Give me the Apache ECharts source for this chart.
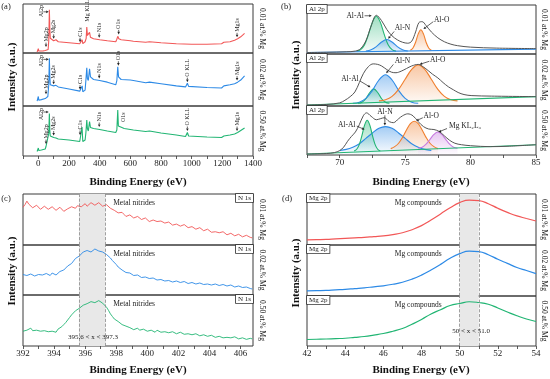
<!DOCTYPE html>
<html><head><meta charset="utf-8">
<script src="https://cdn.jsdelivr.net/npm/echarts@6.0.0/dist/echarts.min.js"></script>
<style>html,body{margin:0;padding:0;background:#fff}#c{width:550px;height:379px}</style>
</head><body><div id="c"></div>
<script>
// ---------- DATA ----------
const sampleLabels = ['0.01 at.% Mg', '0.02 at.% Mg', '0.50 at.% Mg'];

// (a) survey spectra  [binding energy, intensity]
const surveyLow = [[-8,2],[-2,3],[0,9],[3,4],[10,3],[30,4],[45,5],[50,8],[55,5],[64,7],[68,25],[72,88],[75,50],[78,30],[85,26],[100,25],[115,27],[130,23],[200,21],[270,19],[282,19],[286,27],[290,19],[305,23],[312,30],[316,53],[320,36],[328,33],[334,42],[340,32],[360,29],[400,27],[450,25],[505,23],[512,28],[518,34],[525,29],[540,27],[600,25],[612,27],[620,24],[700,22],[725,23],[735,21],[800,21],[900,19],[1000,18],[1100,18],[1195,19],[1210,22],[1250,23],[1280,26],[1300,29],[1320,33],[1345,40]];
const surveyMid = [[-8,9],[-2,10],[0,18],[3,11],[20,12],[45,14],[50,17],[55,15],[62,18],[68,40],[72,90],[75,55],[78,40],[85,38],[100,38],[115,39],[130,36],[200,32],[270,28],[282,28],[286,38],[290,27],[305,30],[310,48],[316,72],[320,52],[326,48],[334,70],[340,55],[360,50],[400,48],[450,45],[505,40],[512,48],[518,74],[523,55],[540,50],[600,49],[612,51],[620,48],[700,44],[725,45],[735,43],[800,42],[900,38],[960,36],[972,43],[980,37],[1100,35],[1195,34],[1210,38],[1250,40],[1280,42],[1300,45],[1320,49],[1345,57]];
const surveyHigh = [[-8,9],[-2,10],[0,16],[3,11],[20,12],[45,14],[50,19],[55,16],[62,20],[68,45],[72,85],[75,50],[78,40],[85,37],[100,37],[115,36],[130,34],[200,32],[270,29],[281,29],[285,58],[290,29],[305,32],[310,46],[316,72],[320,55],[326,50],[334,69],[340,57],[360,55],[400,53],[450,50],[505,47],[512,52],[518,92],[522,60],[530,56],[560,55],[600,53],[612,55],[620,52],[700,49],[725,50],[735,48],[800,46],[900,42],[960,39],[972,47],[980,40],[1100,38],[1195,37],[1210,40],[1250,42],[1280,44],[1300,47],[1320,51],[1345,56]];

// (b) Al 2p fits
const alEnv1 = [[67.5,3],[69,3.5],[70.5,4.5],[71.2,6],[71.6,11],[72.0,27],[72.4,57],[72.8,79],[73.2,68],[73.6,50],[74.0,37],[74.4,29],[74.8,24],[75.2,22],[75.5,26],[75.8,45],[76.05,64],[76.3,66],[76.6,58],[77.0,45],[77.5,33],[78,25],[78.5,20],[79,17],[80,14],[82,12],[85,11]];
const alBase1 = [[67.5,3],[85,10]];
const alAl1 = [[71.3,5.8],[71.6,9],[71.9,19],[72.2,40],[72.5,65],[72.8,77],[73.1,65],[73.4,40],[73.7,19],[74.0,9],[74.3,5.8]];
const alN1 = [[72.0,6.1],[72.4,8.6],[72.8,15],[73.2,24.5],[73.6,29.5],[74.0,24.5],[74.4,15],[74.8,8.6],[75.2,6.1]];
const alO1 = [[75.4,7.7],[75.6,12.3],[75.8,24],[76.0,41],[76.2,49.5],[76.4,41],[76.6,24],[76.8,12.3],[77.0,7.7]];

const alEnv2 = [[67.5,2],[69,3],[70.0,6],[70.4,11],[70.8,18],[71.16,27],[71.5,45],[71.8,62],[72.2,76],[72.56,81],[72.9,80],[73.2,77],[73.6,70],[73.96,65],[74.3,64],[74.7,67],[75.1,72],[75.5,77],[76.0,80],[76.4,75],[76.76,68],[77.1,61],[77.5,54],[77.9,45],[78.3,37],[78.7,31],[79.05,26],[79.5,22],[80.1,20],[81.6,19],[85,18]];
const alBase2 = [[67.5,2],[85,18]];
const alAl2 = [[71.4,5.3],[71.7,7.2],[72.0,14],[72.3,26],[72.6,33],[72.9,26],[73.2,14],[73.5,7.2],[73.8,5.3]];
const alN2 = [[71.0,5.4],[71.5,7.4],[72.0,14.5],[72.5,30],[73.0,50],[73.5,60],[74.0,50],[74.5,30],[75.0,14.5],[75.5,7.4],[76.0,5.4]];
const alO2 = [[73.0,9.8],[73.5,12],[74.0,18.5],[74.5,32],[75.0,51.5],[75.5,70.5],[76.0,79],[76.5,70.5],[77.0,51.5],[77.5,32],[78.0,18.5],[78.5,12],[79.0,9.8]];

const alEnv3 = [[67.5,2],[69.0,3],[69.6,5],[70.0,9],[70.3,16],[70.6,28],[70.9,38],[71.2,47],[71.5,62],[71.8,80],[72.05,86],[72.4,79],[72.8,72],[73.1,74],[73.4,76],[73.8,68],[74.1,66],[74.5,74],[74.8,80],[75.2,84],[75.6,80],[76.0,68],[76.4,58],[76.8,53],[77.2,52],[77.6,48],[78.0,39],[78.4,30],[78.8,24],[79.3,21],[80,19],[81.5,17],[83,18],[85,21]];
const alBase3 = [[67.5,2],[85,21]];
const alAl3 = [[71.1,8.1],[71.3,11.7],[71.5,21.7],[71.7,40],[71.9,61],[72.1,71],[72.3,61],[72.5,40],[72.7,21.7],[72.9,11.7],[73.1,8.1]];
const alN3 = [[70.0,9.3],[70.5,11.5],[71.0,16],[71.5,23],[72.0,34],[72.5,45],[73.0,54.5],[73.5,58],[74.0,54.5],[74.5,45],[75.0,34],[75.5,23],[76.0,16],[76.5,11.5],[77.0,9.3]];
const alO3 = [[73.9,13],[74.2,17],[74.5,24],[74.8,36],[75.1,51],[75.4,64],[75.7,69],[76.0,64],[76.3,51],[76.6,36],[76.9,24],[77.2,17],[77.5,13]];
const mgKL3 = [[76.0,13.8],[76.3,16],[76.6,22],[76.9,32],[77.2,42],[77.5,47],[77.8,42],[78.1,32],[78.4,22],[78.7,16],[79.0,13.8]];

// (c) N 1s
const nEnergy = [392,392.125,392.25,392.375,392.5,392.625,392.75,392.875,393,393.125,393.25,393.375,393.5,393.625,393.75,393.875,394,394.125,394.25,394.375,394.5,394.625,394.75,394.875,395,395.125,395.25,395.375,395.5,395.625,395.75,395.875,396,396.125,396.25,396.375,396.5,396.625,396.75,396.875,397,397.125,397.25,397.375,397.5,397.625,397.75,397.875,398,398.125,398.25,398.375,398.5,398.625,398.75,398.875,399,399.125,399.25,399.375,399.5,399.625,399.75,399.875,400,400.125,400.25,400.375,400.5,400.625,400.75,400.875,401,401.125,401.25,401.375,401.5,401.625,401.75,401.875,402,402.125,402.25,402.375,402.5,402.625,402.75,402.875,403,403.125,403.25,403.375,403.5,403.625,403.75,403.875,404,404.125,404.25,404.375,404.5,404.625,404.75,404.875,405,405.125,405.25,405.375,405.5,405.625,405.75,405.875,406,406.125,406.25,406.375,406.5,406.625,406.75];
const nLow = [74,79,86,80,77,73,72,78,76,70, 71,76,75,70,69,75,74,68,70,74, 72,66,67,71,70,75,73,72,77,79, 75,78,81,76,77,83,84,78,79,83, 80,76,74,79,77,72,70,68,67,63, 61,64,60,56,54,59,58,53,52,56, 55,50,48,53,51,46,45,49,50,46, 44,47,47,43,41,45,44,39,38,41, 42,37,36,40,39,34,33,36,37,31, 30,34,33,28,27,31,29,25,22,26, 27,24,22,26,25,20,19,23,23,18, 17,21,20,16,15,19,18,15,14];
const nMid = [41,38,39,43,42,40,38,42,41,38, 40,42,43,40,39,44,42,40,44,47, 49,50,54,58,60,63,68,73,76,78, 82,86,86,89,90,86,88,92,91,88, 87,86,83,81,77,74,69,66,61,56, 52,50,47,45,42,44,41,39,37,40, 38,35,34,36,35,33,31,34,32,30, 29,31,30,28,26,29,28,26,25,28, 27,25,24,27,26,23,22,25,24,22, 21,24,23,21,20,22,23,20,19,22, 21,19,18,21,20,18,17,20,19,16, 15,18,17,15,14,16,16,13,12];
const nHigh = [29,32,31,28,35,30,28,31,31,29, 27,30,32,28,26,29,30,27,33,35, 38,42,46,51,56,61,64,69,72,74, 77,80,81,83,84,87,86,85,88,89, 86,84,80,76,70,63,58,53,50,48, 45,42,40,39,37,36,35,32,34,35, 31,33,33,30,29,32,31,28,27,31, 30,27,26,28,29,26,25,28,27,24, 24,27,26,23,22,24,25,22,21,24, 23,20,19,22,22,19,18,21,20,17, 16,19,19,16,15,17,18,16,15,18, 17,14,14,16,16,13,13,15,14];
const nitrideRange = [395.6, 397.3];

// (d) Mg 2p
const mgEnergy = [42,42.5,43,43.5,44,44.5,45,45.5,46,46.5,47,47.5,48,48.5,49,49.5,50,50.5,51,51.5,52,52.5,53,53.5,54];
const mgLow = [10,10.5,11,12,13,14,15,16.5,18,20.5,24,30,38,49,61,73,83,88,87,81,72,64,57,52,47];
const mgMid = [10,10.5,11,12,13,14.5,16,18,20,23,27,33,41,51,62,74,83,88,87,81,72,64,56,50,44];
const mgHigh = [13,13.5,14,14.8,15.5,17.2,19,21.8,25,29.5,35,43.5,53,64,72.5,81,85,88.5,87,83.5,76,68,60.5,54,49];
const mgRange = [50, 51.0];

// ---------- LAYOUT ----------
const FONT = '"Liberation Serif", "DejaVu Serif", serif';
const C = {red:'#f25757', blue:'#2d8ae6', green:'#21b573', orange:'#f07f2e', purple:'#c67ae0', env:'#555555'};
const grids = [
 {left:23, top:4, width:230, height:49}, {left:23, top:53, width:230, height:53}, {left:23, top:106, width:230, height:50},
 {left:307, top:5, width:229, height:49}, {left:307, top:54, width:229, height:52}, {left:307, top:106, width:229, height:49},
 {left:23, top:194, width:230, height:51}, {left:23, top:245, width:230, height:50}, {left:23, top:295, width:230, height:51},
 {left:307, top:194, width:229, height:51}, {left:307, top:245, width:229, height:51}, {left:307, top:296, width:229, height:50}
];
const axisCfg = [
 {min:-100, max:1400, interval:100, lab:v => (v % 200 === 0 ? String(v) : '')},
 {min:67.5, max:85, interval:2.5, lab:v => (v % 5 === 0 ? String(v) : '')},
 {min:392, max:406.8, interval:1, lab:v => (Number.isInteger(v) && v % 2 === 0 ? String(v) : '')},
 {min:42, max:54, interval:1, lab:v => (v % 2 === 0 ? String(v) : '')}
];

const chart = echarts.init(document.getElementById('c'), null, {renderer:'canvas'});
const xAxes = [], yAxes = [];
grids.forEach((g, i) => {
  const p = Math.floor(i / 3), bottom = (i % 3) === 2, a = axisCfg[p];
  xAxes.push({gridIndex:i, type:'value', min:a.min, max:a.max, interval:a.interval,
    axisLine:{show:false}, splitLine:{show:false},
    axisTick:{show:bottom, length:3, lineStyle:{color:'#333', width:0.8}},
    axisLabel:{show:bottom, formatter:a.lab, fontFamily:FONT, fontSize:9, color:'#222', margin:3, showMaxLabel:p!==2}});
  yAxes.push({gridIndex:i, type:'value', min:0, max:100, show:false});
});

function rgba(hex, a){const n=parseInt(hex.slice(1),16);return `rgba(${n>>16&255},${n>>8&255},${n&255},${a})`;}
function line(g, data, color, extra){
  return Object.assign({type:'line', xAxisIndex:g, yAxisIndex:g, data, symbol:'none', silent:true, animation:false,
    lineStyle:{color, width:1.1}, itemStyle:{color}, z:3}, extra||{});
}
function comp(g, data, color){
  return line(g, data, color, {smooth:0.35, z:2, lineStyle:{color, width:1.1},
    areaStyle:{origin:'start', color:new echarts.graphic.LinearGradient(0,0,0,1,[{offset:0,color:rgba(color,0.62)},{offset:1,color:rgba(color,0.02)}])}});
}
const zip = (xs, ys) => xs.map((x, i) => [x, ys[i]]);
function shade(range){
  return {
    markArea:{silent:true, itemStyle:{color:'#e8e8e8'}, data:[[{xAxis:range[0]},{xAxis:range[1]}]]},
    markLine:{silent:true, symbol:'none', label:{show:false}, lineStyle:{type:'dashed', color:'#8a8a8a', width:0.8}, data:[{xAxis:range[0]},{xAxis:range[1]}]}
  };
}
const thin = c => ({lineStyle:{color:c, width:0.9}});
const thick = c => ({smooth:0.5, lineStyle:{color:c, width:1.2}});

const series = [
  line(0, surveyLow, C.red), line(1, surveyMid, C.blue), line(2, surveyHigh, C.green),
  comp(3, alAl1, C.green), comp(3, alN1, C.blue), comp(3, alO1, C.orange),
  line(3, alBase1, C.blue, {z:4}), line(3, alEnv1, C.env, {smooth:0.35, z:5, lineStyle:{color:C.env, width:1}}),
  comp(4, alAl2, C.green), comp(4, alN2, C.blue), comp(4, alO2, C.orange),
  line(4, alBase2, C.green, {z:4}), line(4, alEnv2, C.env, {smooth:0.35, z:5, lineStyle:{color:C.env, width:1}}),
  comp(5, alN3, C.blue), comp(5, alAl3, C.green), comp(5, alO3, C.orange), comp(5, mgKL3, C.purple),
  line(5, alBase3, C.green, {z:4}), line(5, alEnv3, C.env, {smooth:0.35, z:5, lineStyle:{color:C.env, width:1}}),
  line(6, zip(nEnergy, nLow), C.red, Object.assign(thin(C.red), shade(nitrideRange))),
  line(7, zip(nEnergy, nMid), C.blue, Object.assign(thin(C.blue), shade(nitrideRange))),
  line(8, zip(nEnergy, nHigh), C.green, Object.assign(thin(C.green), shade(nitrideRange))),
  line(9, zip(mgEnergy, mgLow), C.red, Object.assign(thick(C.red), shade(mgRange))),
  line(10, zip(mgEnergy, mgMid), C.blue, Object.assign(thick(C.blue), shade(mgRange))),
  line(11, zip(mgEnergy, mgHigh), C.green, Object.assign(thick(C.green), shade(mgRange)))
];

chart.setOption({
  animation:false, backgroundColor:'#fff',
  grid: grids.map(g => Object.assign({show:true, borderColor:'#3a3a3a', borderWidth:1, backgroundColor:'transparent', containLabel:false}, g)),
  xAxis: xAxes, yAxis: yAxes, series
});

// ---------- ANNOTATIONS ----------
const annA = [
 [0,'Mg2p',50,12],[0,'Mg2s',100,29],[0,'C1s',272,22],[0,'N1s',397,31],[0,'O1s',524,38],[0,'Mg1s',1296,32],
 [1,'Mg2p',50,22],[1,'Mg2s',100,41],[1,'C1s',272,31],[1,'N1s',397,52],[1,'O1s',522,76],[1,'O KLL',972,45],[1,'Mg1s',1296,48],
 [2,'Mg2p',50,24],[2,'Mg2s',100,41],[2,'C1s',272,42],[2,'N1s',397,58],[2,'O KLL',972,50],[2,'Mg1s',1296,50]
];
const annAPlain = [[0,'Mg KLL',322,64],[2,'O1s',556,68]];
const annAl2p = [[0,98,84],[1,96,88],[2,96,88]];
const annB = [
 [3,'Al-Al',71.85,78,'right',71.9,78,72.45,78],
 [3,'Al-N',74.2,52,'left',74.16,46,73.7,31],
 [3,'Al-O',77.2,70,'left',77.15,66,76.4,51],
 [4,'Al-Al',71.45,51,'right',71.55,48,72.35,36],
 [4,'Al-N',74.2,86,'left',74.1,80,73.55,63],
 [4,'Al-O',76.9,88,'left',76.85,86,76.1,80],
 [5,'Al-Al',71.2,62,'right',71.3,59,71.9,52],
 [5,'Al-N',73.45,88,'center',73.45,81,73.45,60],
 [5,'Al-O',76.4,80,'left',76.35,76,75.85,70],
 [5,'Mg KL₂L₃',78.35,59,'left',78.2,54,77.55,47]
];

const P = (g, x, y) => chart.convertToPixel({gridIndex:g}, [x, y]);
const els = [];
function text(x, y, t, size, o){
  o = o || {};
  const st = Object.assign({text:t, fill:o.fill||'#222', font:`${o.bold?'bold ':''}${size}px ${FONT}`,
    align:o.align||'center', verticalAlign:o.va||'middle', textAlign:o.align||'center', textVerticalAlign:o.va||'middle'}, o.style||{});
  els.push({type:'text', x, y, rotation:o.rot||0, silent:true, z:100, style:st});
}
function arrow(p1, p2, color){
  const dx=p2[0]-p1[0], dy=p2[1]-p1[1], L=Math.hypot(dx,dy)||1, ux=dx/L, uy=dy/L, h=2.6, w=1.3;
  const bx=p2[0]-ux*h, by=p2[1]-uy*h;
  els.push({type:'line', silent:true, z:100, shape:{x1:p1[0],y1:p1[1],x2:bx,y2:by}, style:{stroke:color, lineWidth:0.7}});
  els.push({type:'polygon', silent:true, z:100, shape:{points:[[p2[0],p2[1]],[bx-uy*w,by+ux*w],[bx+uy*w,by-ux*w]]}, style:{fill:color}});
}

// (a) labels
annA.forEach(([g, t, e, v]) => {
  const tip = P(g, e, v);
  arrow([tip[0], tip[1]-4.5], tip, '#222');
  text(tip[0], tip[1]-5.5, t, 6, {rot:Math.PI/2, align:'left'});
});
annAPlain.forEach(([g, t, e, v]) => { const p = P(g, e, v); text(p[0], p[1], t, 6, {rot:Math.PI/2, align:'left'}); });
annAl2p.forEach(([g, top, av]) => {
  const p = P(g, 20, top); text(p[0], p[1], 'Al2p', 6, {rot:Math.PI/2, align:'right'});
  arrow(P(g, 33, av), P(g, 68, av), '#222');
});
// (b) labels
annB.forEach(([g, t, e, v, al, fe, fv, te, tv]) => {
  const p = P(g, e, v); text(p[0], p[1], t, 7.5, {align:al});
  arrow(P(g, fe, fv), P(g, te, tv), '#222');
});
// (c) & (d) labels
[6,7,8].forEach(g => { const p = P(g, 397.8, 82); text(p[0], p[1], 'Metal nitrides', 7.5, {align:'left'}); });
[9,10,11].forEach(g => { const p = P(g, 46.6, 82); text(p[0], p[1], 'Mg compounds', 7.5, {align:'left'}); });
{ const p = P(8, 396.5, 18); text(p[0], p[1], '395.6 < x < 397.3', 7, {}); }
{ const p = P(11, 50.6, 29); text(p[0], p[1], '50 < x < 51.0', 7, {}); }

// boxed element labels
const boxStyle = {borderColor:'#333', borderWidth:0.8, backgroundColor:'#fff', padding:[1,2,0,2]};
[3,4,5].forEach(g => text(grids[g].left, grids[g].top, 'Al 2p', 7, {align:'left', va:'top', style:boxStyle}));
[9,10,11].forEach(g => text(grids[g].left, grids[g].top, 'Mg 2p', 7, {align:'left', va:'top', style:boxStyle}));
[6,7,8].forEach(g => text(grids[g].left + grids[g].width, grids[g].top, 'N 1s', 7, {align:'right', va:'top', style:boxStyle}));

// sample labels on the right
grids.forEach((g, i) => {
  const x = i < 3 || (i >= 6 && i < 9) ? 262 : 544;
  text(x, g.top + g.height / 2, sampleLabels[i % 3], 7.5, {rot:-Math.PI/2, fill:'#111'});
});
// axis titles & panel letters
[[138,182],[421,182],[138,370],[421,370]].forEach(([x,y]) => text(x, y, 'Binding Energy (eV)', 11, {bold:true, fill:'#111'}));
[[12,77],[296,75],[12,271],[296,273]].forEach(([x,y]) => text(x, y, 'Intensity (a.u.)', 11, {bold:true, fill:'#111', rot:Math.PI/2}));
[['(a)',6,7],['(b)',286,7],['(c)',6,199],['(d)',287,199]].forEach(([t,x,y]) => text(x, y, t, 8.5, {}));

chart.setOption({graphic:{elements:els}});
</script></body></html>
